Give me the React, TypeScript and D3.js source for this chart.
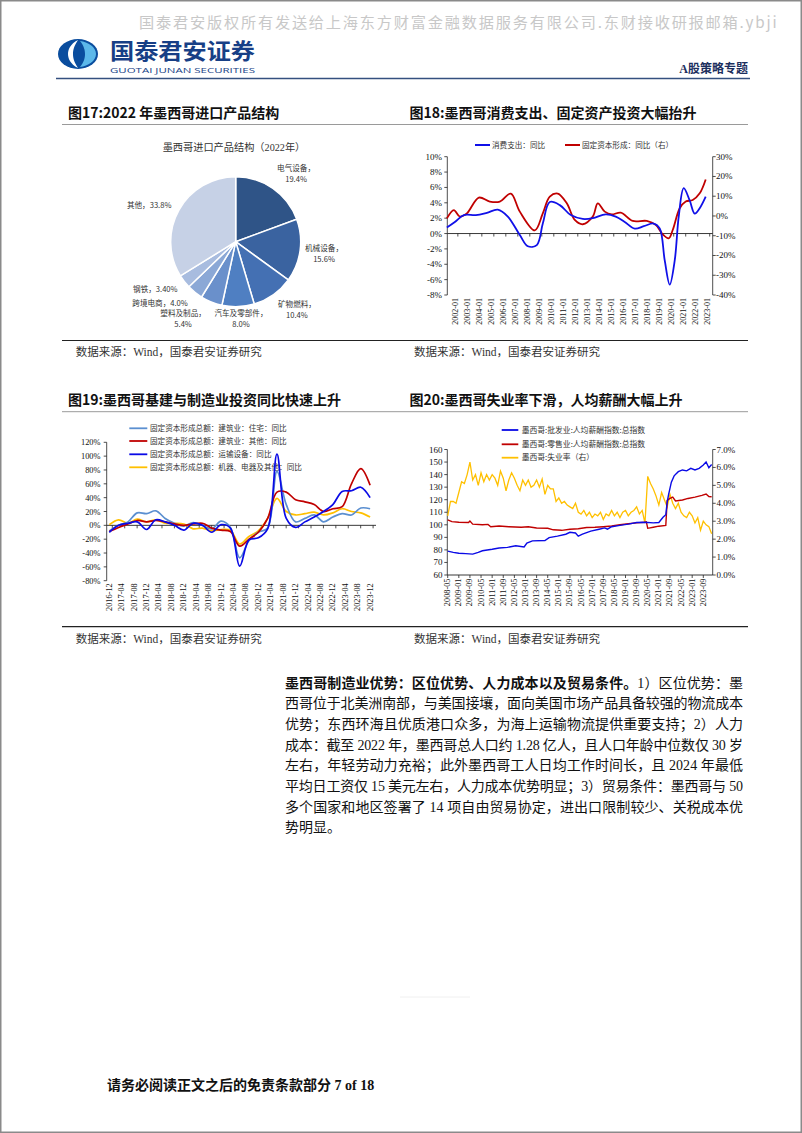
import React from 'react';
import * as d3 from 'd3';

const W = 802;
const H = 1133;
const SERIF = "'Liberation Serif', 'Noto Sans CJK SC', serif";
const CJK = "'Noto Sans CJK SC', 'Liberation Serif', sans-serif";

// ---------- Fig 17: pie ----------
const pieCategories = ['电气设备', '机械设备', '矿物燃料', '汽车及零部件', '塑料及制品', '跨境电商', '钢铁', '其他'];
const pieValues = [19.4, 15.6, 10.4, 8.0, 5.4, 4.0, 3.4, 33.8];
const pieValueLabels = ['19.4%', '15.6%', '10.4%', '8.0%', '5.4%', '4.0%', '3.40%', '33.8%'];
const pieColors = ['#2F5487', '#3A63A0', '#4470B3', '#4F7FC2', '#6A90CB', '#8BA8D6', '#A8BCDF', '#C6D1E6'];
const pieLabelTwoLine = [true, true, true, true, true, false, false, false];
const pieLabelNudge: [number, number][] = [[7.7, 7.7], [-2.8, -1.3], [8.1, -6.8], [1.8, -15.6], [-18.2, -9], [-17.9, -10.6], [-7.7, -9], [-6.2, 7.9]];

// ---------- Fig 18 ----------
const consDates = ['2001-05', '2002-01', '2002-10', '2003-10', '2004-09', '2005-08', '2006-06', '2007-06', '2008-02', '2008-11', '2009-05', '2009-12', '2010-10', '2011-09', '2012-09', '2013-07', '2014-08', '2015-06', '2016-03', '2017-01', '2017-10', '2018-08', '2019-02', '2019-07', '2019-12', '2020-05', '2020-09', '2021-02', '2021-08', '2022-01', '2022-06', '2022-12'];
const consValues = [0.78, 1.5, 2.4, 2.4, 2.7, 3.1, 2.2, -0.2, -1.65, -1.5, 1.3, 4.1, 3.7, 2.4, 1.9, 2.0, 2.5, 2.2, 1.5, 0.65, 0.95, 1.3, 0.65, -3.5, -6.65, -3.5, 2.2, 5.9, 4.3, 2.6, 3.3, 4.8];
const gfcfDates = ['2001-05', '2001-12', '2002-06', '2003-01', '2004-01', '2004-12', '2005-10', '2006-09', '2007-06', '2008-09', '2009-05', '2009-12', '2010-08', '2011-05', '2012-01', '2012-09', '2013-07', '2013-12', '2014-07', '2015-02', '2015-11', '2016-11', '2018-01', '2018-10', '2019-05', '2019-11', '2020-03', '2020-10', '2021-04', '2021-11', '2022-06', '2022-12'];
const gfcfValues = [-1.2, 3.0, -0.3, 1.3, 9.3, 7.3, 7.3, 11.3, 2.2, -7.3, 1.3, 9.8, 11.3, 6.4, -2, -4.2, -0.3, 6.4, 2.2, 0.8, 1.7, -2.5, -2.5, -4.5, -9.3, -11.3, -7.1, 3.9, 7.3, 8.1, 11.5, 18.5];
const fig18Years = d3.range(2002, 2024);
const fig18LeftTicks = [10, 8, 6, 4, 2, 0, -2, -4, -6, -8];
const fig18RightTicks = [30, 20, 10, 0, -10, -20, -30, -40];

// ---------- Fig 19 (quarterly from 2016-12) ----------
const fig19Start = '2016-12';
const resValues = [-8, 0, 5, 18, 17, 21, 10, 3, -1, 4, 0, -5, 6, -3, -47, -22, -10, -4, 78, 30, 5, 10, 15, 5, 12, 17, 15, 25, 24];
const otherConsValues = [-9, -3, 2, 7, 5, 7, 5, 2, 0, 2, 3, -4, -7, -9, -30, -20, -10, 10, 48, 48, 37, 34, 30, 20, 24, 27, 60, 82, 58];
const transportValues = [-10, 0, 3, 5, -6, 8, 5, 0, -7, 3, 0, -10, 1, -4, -59, -21, -18, -5, 103, 10, -3, 5, 12, 20, 30, 49, 50, 55, 40];
const machineryValues = [1, 8, 3, 9, 5, 8, 3, 3, 2, -5, -4, -8, -6, -7, -27, -16, -8, 10, 39, 20, 15, 17, 19, 15, 18, 24, 20, 18, 12];
const fig19Labels = ['2016-12', '2017-04', '2017-08', '2017-12', '2018-04', '2018-08', '2018-12', '2019-04', '2019-08', '2019-12', '2020-04', '2020-08', '2020-12', '2021-04', '2021-08', '2021-12', '2022-04', '2022-08', '2022-12', '2023-04', '2023-08', '2023-12'];
const fig19Ticks = [120, 100, 80, 60, 40, 20, 0, -20, -40, -60, -80];
const fig19Legend = ['固定资本形成总额：建筑业：住宅：同比', '固定资本形成总额：建筑业：其他：同比', '固定资本形成总额：运输设备：同比', '固定资本形成总额：机器、电器及其他：同比'];

// ---------- Fig 20 ----------
const fig20Start = '2008-05';
const wholesaleDates = ['2008-05', '2008-09', '2009-01', '2009-06', '2009-11', '2010-03', '2010-06', '2011-01', '2011-06', '2011-12', '2012-06', '2012-12', '2013-02', '2013-06', '2014-03', '2014-06', '2014-12', '2015-06', '2015-09', '2016-01', '2016-03', '2016-06', '2016-12', '2017-06', '2017-10', '2017-12', '2018-03', '2018-09', '2019-03', '2019-09', '2020-03', '2020-09', '2021-01', '2021-04', '2021-06', '2021-07', '2021-08', '2021-10', '2021-12', '2022-03', '2022-06', '2022-09', '2022-12', '2023-03', '2023-06', '2023-09', '2023-11', '2024-01', '2024-03'];
const wholesaleValues = [79, 78, 77.3, 77, 76.6, 78, 79.3, 80.5, 81.5, 82, 83.3, 82.3, 85.5, 87.2, 87.5, 89.8, 91, 92.5, 94, 93.5, 91, 92.5, 95, 96.5, 97.5, 96.5, 98.5, 99.5, 100.5, 101.8, 102, 101.5, 101.8, 106, 108, 118, 124, 134, 139, 142.3, 143.7, 143, 145, 143.7, 145, 147.6, 150, 145.5, 148];
const retailDates = ['2008-05', '2008-08', '2009-01', '2009-08', '2009-09', '2009-11', '2010-06', '2010-10', '2010-12', '2011-06', '2012-01', '2012-10', '2013-03', '2013-09', '2014-05', '2014-09', '2015-03', '2015-09', '2016-03', '2016-09', '2017-03', '2017-09', '2018-03', '2018-09', '2019-03', '2019-09', '2020-03', '2020-04', '2020-05', '2020-09', '2021-01', '2021-06', '2021-07', '2021-09', '2021-11', '2022-01', '2022-06', '2022-10', '2023-03', '2023-08', '2023-11', '2024-01', '2024-03'];
const retailValues = [104, 102.5, 102, 101.8, 103, 100.5, 100, 100.3, 98.5, 99, 98.5, 98, 98.5, 97.5, 97.2, 96, 95.6, 96.5, 96.8, 97.8, 98, 98.5, 99, 100, 100.8, 101.5, 102, 102.3, 97.2, 98, 98.9, 99.5, 119.5, 121, 122, 119, 119.8, 121, 122, 123.5, 124.5, 122.5, 122.3];
// unemployment, every two months from 2008-05
const unempValues = [3.3, 4.1, 4.1, 4.0, 4.6, 5.2, 5.1, 5.6, 6.3, 5.3,
  5.6, 5.0, 5.7, 5.2, 5.6, 5.3, 5.6, 5.4, 5.0, 5.8,
  5.4, 4.7, 5.3, 5.7, 5.4, 5.0, 4.7, 5.3, 5.0, 5.3,
  4.9, 5.0, 5.3, 4.9, 5.35, 4.5, 5.0, 4.8, 4.8, 4.1,
  4.3, 4.0, 4.1, 3.9, 3.8, 3.7, 4.0, 3.5, 3.4, 3.6,
  3.3, 3.5, 3.2, 3.4, 3.3, 3.5, 3.1, 3.4, 3.3, 3.6,
  3.3, 3.5, 3.2, 3.5, 3.6, 3.3, 3.5, 3.6, 3.8, 3.4,
  3.6, 2.9, 5.5, 5.1, 4.8, 4.4, 3.9, 4.6, 4.2, 3.8,
  4.5, 4.0, 3.7, 4.0, 3.5, 3.3, 3.2, 3.5, 3.3, 2.9,
  3.2, 2.5, 3.0, 2.8, 2.7, 2.3];
const fig20Labels = ['2008-05', '2009-01', '2009-09', '2010-05', '2011-01', '2011-09', '2012-05', '2013-01', '2013-09', '2014-05', '2015-01', '2015-09', '2016-05', '2017-01', '2017-09', '2018-05', '2019-01', '2019-09', '2020-05', '2021-01', '2021-09', '2022-05', '2023-01', '2023-09'];
const fig20LeftTicks = [160, 150, 140, 130, 120, 110, 100, 90, 80, 70, 60];
const fig20RightTicks = [7, 6, 5, 4, 3, 2, 1, 0];
const fig20Legend = ['墨西哥:批发业:人均薪酬指数:总指数', '墨西哥:零售业:人均薪酬指数:总指数', '墨西哥:失业率（右）'];

// ---------- Text ----------
const watermarkText = '国泰君安版权所有发送给上海东方财富金融数据服务有限公司.东财接收研报邮箱.ybji';
const paragraphBold = '墨西哥制造业优势：区位优势、人力成本以及贸易条件。';
const paragraphLines = [
  '1）区位优势：墨',
  '西哥位于北美洲南部，与美国接壤，面向美国市场产品具备较强的物流成本',
  '优势；东西环海且优质港口众多，为海上运输物流提供重要支持；2）人力',
  '成本：截至 2022 年，墨西哥总人口约 1.28 亿人，且人口年龄中位数仅 30 岁',
  '左右，年轻劳动力充裕；此外墨西哥工人日均工作时间长，且 2024 年最低',
  '平均日工资仅 15 美元左右，人力成本优势明显；3）贸易条件：墨西哥与 50',
  '多个国家和地区签署了 14 项自由贸易协定，进出口限制较少、关税成本优',
  '势明显。',
];

function ym(s: string): number {
  const [y, m] = s.split('-').map(Number);
  return y + (m - 1) / 12;
}
function monthsFrom(s: string, base: string): number {
  const [y, m] = s.split('-').map(Number);
  const [by, bm] = base.split('-').map(Number);
  return (y - by) * 12 + (m - bm);
}

const AX = '#222';

function Header() {
  return (
    <g>
      <text x={139} y={28} fontFamily={CJK} fontSize={15.2} fill="#c8c8c8" letterSpacing={1.8}>
        {watermarkText}
      </text>
      {/* logo */}
      <g>
        <ellipse cx={78} cy={54} rx={20} ry={15} fill="#0a4d9e" />
        <path d="M78,40 C70,44 68,50 68,54 C68,58 70,64 78,68 C74,62 73,58 73,54 C73,50 74,46 78,40 Z" fill="#ffffff" />
        <path d="M80,41 C88,42 96,47 96,54 C96,61 88,66 80,67 C84,62 85,58 85,54 C85,50 84,46 80,41 Z" fill="#5cb8ea" />
      </g>
      <text x={110} y={59} fontFamily={CJK} fontWeight={700} fontSize={21.5} fill="#173f86" textLength={145} lengthAdjust="spacingAndGlyphs">国泰君安证券</text>
      <text x={110} y={72.5} fontFamily="'Open Sans', sans-serif" fontSize={8} fill="#173f86" textLength={145} lengthAdjust="spacingAndGlyphs">GUOTAI JUNAN SECURITIES</text>
      <text x={748} y={73} textAnchor="end" fontFamily={SERIF} fontWeight={700} fontSize={12} fill="#1c2f5e">A股策略专题</text>
      <line x1={56} x2={750} y1={78.5} y2={78.5} stroke="#34507f" strokeWidth={1.6} />
    </g>
  );
}

function Fig17() {
  const cx = 235.7, cy = 241.7, r = 65;
  const pie = d3.pie<number>().sort(null).value((d) => d)(pieValues);
  const arc = d3.arc<d3.PieArcDatum<number>>().innerRadius(0).outerRadius(r);
  return (
    <g>
      <text x={234} y={150.5} textAnchor="middle" fontFamily={SERIF} fontSize={10.2} fill="#333">墨西哥进口产品结构（2022年）</text>
      <g transform={`translate(${cx},${cy})`}>
        {pie.map((p, i) => (
          <path key={i} d={arc(p) || ''} fill={pieColors[i]} stroke="#fff" strokeWidth={1.5} />
        ))}
        {pie.map((p, i) => {
          const a = (p.startAngle + p.endAngle) / 2;
          const lx = 92 * Math.sin(a) + pieLabelNudge[i][0];
          const ly = -92 * Math.cos(a) + pieLabelNudge[i][1];
          if (pieLabelTwoLine[i]) {
            return (
              <g key={i} fontFamily={CJK} fontSize={7.6} fill="#333" textAnchor="middle">
                <text x={lx} y={ly - 2.5}>{pieCategories[i]}，</text>
                <text x={lx} y={ly + 8.5}>{pieValueLabels[i]}</text>
              </g>
            );
          }
          return (
            <text key={i} x={lx} y={ly + 3} fontFamily={CJK} fontSize={7.6} fill="#333" textAnchor="middle">
              {pieCategories[i]}，{pieValueLabels[i]}
            </text>
          );
        })}
      </g>
    </g>
  );
}

function Fig18() {
  const x = d3.scaleLinear().domain([2001.37, 2023.5]).range([447.3, 712.7]);
  const yL = d3.scaleLinear().domain([-8, 10]).range([295, 156.7]);
  const yR = d3.scaleLinear().domain([-40, 30]).range([295, 156.7]);
  const line = d3.line<[number, number]>().curve(d3.curveCatmullRom.alpha(0.5));
  const cons = line(consDates.map((d, i) => [x(ym(d)), yL(consValues[i])]));
  const gfcf = line(gfcfDates.map((d, i) => [x(ym(d)), yR(gfcfValues[i])]));
  const [x0, x1] = x.range();
  return (
    <g>
      {/* legend */}
      <line x1={475} x2={490} y1={145} y2={145} stroke="#1010e8" strokeWidth={2} />
      <text x={492} y={147.7} fontFamily={CJK} fontSize={7.6} fill="#333">消费支出：同比</text>
      <line x1={565} x2={580} y1={145} y2={145} stroke="#c00000" strokeWidth={2} />
      <text x={582} y={147.7} fontFamily={CJK} fontSize={7.6} fill="#333">固定资本形成：同比（右）</text>
      {/* axes */}
      <line x1={x0} x2={x0} y1={yL(10)} y2={yL(-8)} stroke={AX} strokeWidth={0.8} />
      <line x1={x1} x2={x1} y1={yR(30)} y2={yR(-40)} stroke={AX} strokeWidth={0.8} />
      {fig18LeftTicks.map((t) => (
        <g key={t}>
          <line x1={x0 - 3} x2={x0} y1={yL(t)} y2={yL(t)} stroke={AX} strokeWidth={0.8} />
          <text x={442} y={yL(t) + 3} textAnchor="end" fontFamily={SERIF} fontSize={9} fill="#111">{t}%</text>
        </g>
      ))}
      {fig18RightTicks.map((t) => (
        <g key={t}>
          <line x1={x1} x2={x1 + 3} y1={yR(t)} y2={yR(t)} stroke={AX} strokeWidth={0.8} />
          <text x={716} y={yR(t) + 3} fontFamily={SERIF} fontSize={9} fill="#111">{t}%</text>
        </g>
      ))}
      <line x1={x0} x2={x1} y1={yL(0)} y2={yL(0)} stroke={AX} strokeWidth={0.9} />
      {fig18Years.map((yr) => (
        <g key={yr}>
          <line x1={x(yr) + 3} x2={x(yr) + 3} y1={yL(0)} y2={yL(0) + 3} stroke={AX} strokeWidth={0.8} />
          <text transform={`translate(${x(yr) + 0.5},${298}) rotate(-90)`} textAnchor="end" dominantBaseline="central" fontFamily={SERIF} fontSize={8} fill="#111">{`${yr}-01`}</text>
        </g>
      ))}
      <path d={gfcf || ''} fill="none" stroke="#c00000" strokeWidth={1.8} />
      <path d={cons || ''} fill="none" stroke="#1010e8" strokeWidth={1.8} />
    </g>
  );
}

function Fig19() {
  const x = d3.scaleLinear().domain([0, 84]).range([109.3, 370.1]);
  const y = d3.scaleLinear().domain([-80, 120]).range([580.7, 442.3]);
  const line = d3.line<[number, number]>().curve(d3.curveCatmullRom.alpha(0.5));
  const mk = (vals: number[]) => line(vals.map((v, i) => [x(i * 3), y(v)])) || '';
  const series = [
    { vals: resValues, color: '#5b8fd0' },
    { vals: otherConsValues, color: '#c00000' },
    { vals: transportValues, color: '#0a0ae6' },
    { vals: machineryValues, color: '#ffc000' },
  ];
  const legendY = [428.3, 441, 454.3, 467.3];
  const drawOrder = [3, 0, 1, 2];
  return (
    <g>
      {fig19Legend.map((t, i) => (
        <g key={t}>
          <line x1={129.3} x2={147.3} y1={legendY[i]} y2={legendY[i]} stroke={series[i].color} strokeWidth={1.8} />
          <text x={150} y={legendY[i] + 2.7} fontFamily={CJK} fontSize={7.6} fill="#333">{t}</text>
        </g>
      ))}
      <line x1={106.7} x2={106.7} y1={y(120)} y2={y(-80)} stroke={AX} strokeWidth={0.8} />
      {fig19Ticks.map((t) => (
        <g key={t}>
          <line x1={103.7} x2={106.7} y1={y(t)} y2={y(t)} stroke={AX} strokeWidth={0.8} />
          <text x={100.5} y={y(t) + 3} textAnchor="end" fontFamily={SERIF} fontSize={8.4} fill="#111">{t}%</text>
        </g>
      ))}
      <line x1={106.7} x2={376} y1={y(0)} y2={y(0)} stroke={AX} strokeWidth={0.9} />
      {fig19Labels.map((l) => {
        const m = monthsFrom(l, fig19Start);
        return (
          <g key={l}>
            <line x1={x(m) + 3} x2={x(m) + 3} y1={y(0)} y2={y(0) + 3} stroke={AX} strokeWidth={0.8} />
            <text transform={`translate(${x(m)},${583.3}) rotate(-90)`} textAnchor="end" dominantBaseline="central" fontFamily={SERIF} fontSize={8.3} fill="#111">{l}</text>
          </g>
        );
      })}
      {drawOrder.map((i) => (
        <path key={i} d={mk(series[i].vals)} fill="none" stroke={series[i].color} strokeWidth={1.7} />
      ))}
    </g>
  );
}

function Fig20() {
  const x = d3.scaleLinear().domain([0, 184]).range([447.7, 703.3]);
  const yL = d3.scaleLinear().domain([60, 160]).range([575, 449.5]);
  const yR = d3.scaleLinear().domain([0, 7]).range([575, 449.5]);
  const line = d3.line<[number, number]>();
  const wh = line(wholesaleDates.map((d, i) => [x(monthsFrom(d, fig20Start)), yL(wholesaleValues[i])])) || '';
  const rt = line(retailDates.map((d, i) => [x(monthsFrom(d, fig20Start)), yL(retailValues[i])])) || '';
  const un = line(unempValues.map((v, i) => [x(i * 2), yR(v)])) || '';
  const colors = ['#0a0ae6', '#c00000', '#ffc000'];
  const legendY = [430, 444.3, 457.7];
  return (
    <g>
      {fig20Legend.map((t, i) => (
        <g key={t}>
          <line x1={501.7} x2={518.3} y1={legendY[i]} y2={legendY[i]} stroke={colors[i]} strokeWidth={1.8} />
          <text x={521.7} y={legendY[i] + 2.7} fontFamily={CJK} fontSize={7.8} fill="#333">{t}</text>
        </g>
      ))}
      <line x1={447.3} x2={447.3} y1={449.5} y2={575} stroke={AX} strokeWidth={0.8} />
      <line x1={712.7} x2={712.7} y1={449.5} y2={575} stroke={AX} strokeWidth={0.8} />
      <line x1={447.3} x2={712.7} y1={575} y2={575} stroke={AX} strokeWidth={0.9} />
      {fig20LeftTicks.map((t) => (
        <g key={t}>
          <line x1={444.3} x2={447.3} y1={yL(t)} y2={yL(t)} stroke={AX} strokeWidth={0.8} />
          <text x={442.5} y={yL(t) + 3} textAnchor="end" fontFamily={SERIF} fontSize={9} fill="#111">{t}</text>
        </g>
      ))}
      {fig20RightTicks.map((t) => (
        <g key={t}>
          <line x1={712.7} x2={715.7} y1={yR(t)} y2={yR(t)} stroke={AX} strokeWidth={0.8} />
          <text x={716.5} y={yR(t) + 3} fontFamily={SERIF} fontSize={9} fill="#111">{t.toFixed(1)}%</text>
        </g>
      ))}
      {fig20Labels.map((l) => {
        const m = monthsFrom(l, fig20Start);
        return (
          <g key={l}>
            <line x1={x(m)} x2={x(m)} y1={575} y2={578} stroke={AX} strokeWidth={0.8} />
            <text transform={`translate(${x(m)},${578.5}) rotate(-90)`} textAnchor="end" dominantBaseline="central" fontFamily={SERIF} fontSize={8.3} fill="#111">{l}</text>
          </g>
        );
      })}
      <path d={un} fill="none" stroke="#ffc000" strokeWidth={1.3} />
      <path d={rt} fill="none" stroke="#c00000" strokeWidth={1.4} />
      <path d={wh} fill="none" stroke="#0a0ae6" strokeWidth={1.4} />
    </g>
  );
}

function Frames() {
  const title = (x: number, y: number, t: string) => (
    <text x={x} y={y} fontFamily={CJK} fontWeight={700} fontSize={14} fill="#111">{t}</text>
  );
  const source = (x: number, y: number) => (
    <text x={x} y={y} fontFamily={SERIF} fontSize={11.5} fill="#333">数据来源：Wind，国泰君安证券研究</text>
  );
  return (
    <g>
      {title(68, 118, '图17:2022 年墨西哥进口产品结构')}
      {title(409.5, 118, '图18:墨西哥消费支出、固定资产投资大幅抬升')}
      <line x1={62} x2={748} y1={124.5} y2={124.5} stroke="#9a9a9a" strokeWidth={1} />
      <line x1={62} x2={748} y1={340.5} y2={340.5} stroke="#222" strokeWidth={1.2} />
      {source(75.7, 356)}
      {source(414, 356)}
      {title(68, 405, '图19:墨西哥基建与制造业投资同比快速上升')}
      {title(409.5, 405, '图20:墨西哥失业率下滑，人均薪酬大幅上升')}
      <line x1={62} x2={748} y1={411.7} y2={411.7} stroke="#9a9a9a" strokeWidth={1} />
      <line x1={62} x2={748} y1={626.7} y2={626.7} stroke="#222" strokeWidth={1.2} />
      {source(75.7, 642.5)}
      {source(414, 642.5)}
    </g>
  );
}

function Paragraph() {
  const x0 = 285;
  const width = 458;
  const base = 687.7;
  const step = 20.66;
  return (
    <g fontFamily={SERIF} fontSize={14} fill="#111">
      {paragraphLines.map((l, i) => {
        const y = base + i * step;
        const justify = i < paragraphLines.length - 1;
        if (i === 0) {
          return (
            <text key={i} x={x0} y={y} textLength={width} lengthAdjust="spacing">
              <tspan fontFamily={CJK} fontWeight={700}>{paragraphBold}</tspan>
              <tspan>{l}</tspan>
            </text>
          );
        }
        return (
          <text key={i} x={x0} y={y} {...(justify ? { textLength: width, lengthAdjust: 'spacing' } : {})}>{l}</text>
        );
      })}
    </g>
  );
}

export default function App() {
  return (
    <svg width={W} height={H} viewBox={`0 0 ${W} ${H}`} style={{ position: 'absolute', left: 0, top: 0, background: '#fff' }}>
      <rect x={0} y={0} width={W} height={H} fill="#fff" />
      <Header />
      <Frames />
      <Fig17 />
      <Fig18 />
      <Fig19 />
      <Fig20 />
      <Paragraph />
      <line x1={400} x2={470} y1={997} y2={997} stroke="#f0f0f0" strokeWidth={1} />
      <text x={107} y={1090} fontFamily={SERIF} fontWeight={700} fontSize={14} fill="#111">请务必阅读正文之后的免责条款部分 7 of 18</text>
      <rect x={0.75} y={0.75} width={W - 1.5} height={H - 1.5} fill="none" stroke="#8a8a8a" strokeWidth={1.5} />
    </svg>
  );
}
